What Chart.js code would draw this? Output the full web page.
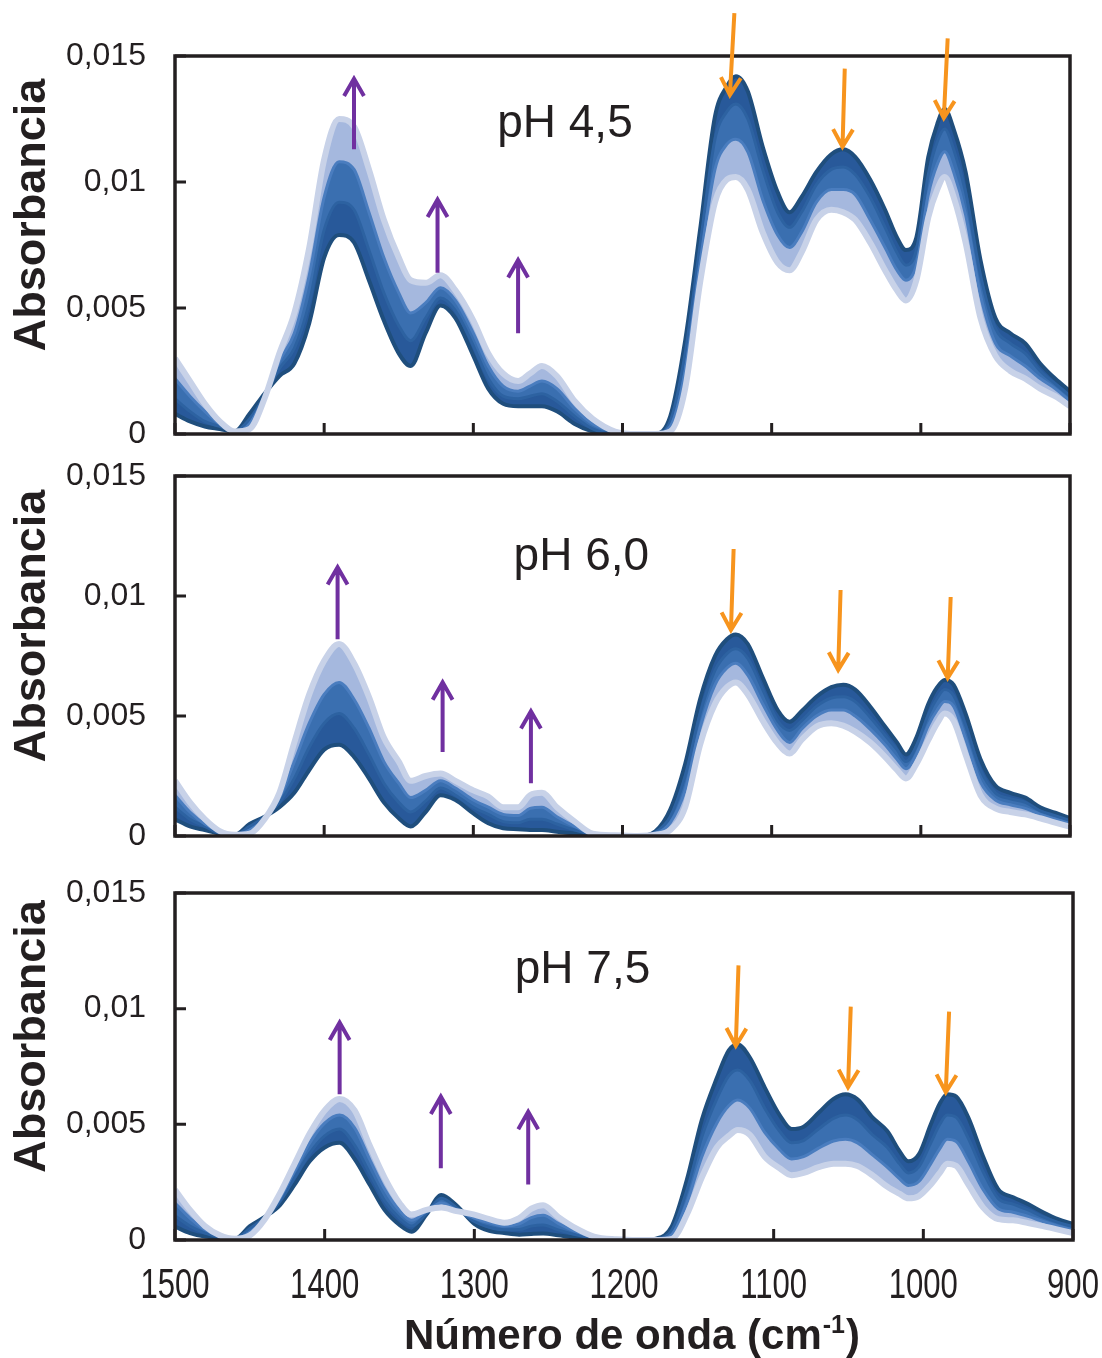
<!DOCTYPE html>
<html>
<head>
<meta charset="utf-8">
<script src="https://cdn.jsdelivr.net/npm/chart.js@4.4.1/dist/chart.umd.min.js"></script>
<style>
  body { margin: 0; background: #fff; }
  #wrap { position: relative; width: 1102px; height: 1358px; }
  canvas { position: absolute; left: 0; }
</style>
</head>
<body>
<div id="wrap">
  <canvas id="p1" width="1102" height="460" style="top:0"></canvas>
  <canvas id="p2" width="1102" height="420" style="top:460px"></canvas>
  <canvas id="p3" width="1102" height="478" style="top:880px"></canvas>
</div>
<script>
// wavenumber (cm-1) of every sampled point
const wavenumber = [1500,1490,1480,1470,1460,1450,1440,1430,1420,1410,
  1400,1390,1380,1370,1360,1350,1342,1332,1322,1312,
  1300,1290,1280,1270,1262,1254,1244,1232,1220,1205,
  1190,1178,1168,1158,1148,1138,1130,1124,1116,1106,
  1096,1088,1080,1070,1060,1052,1044,1034,1024,1016,
  1010,1003,995,989,984,978,970,960,950,940,
  930,920,910,900];

// absorbance x 1e-4, first spectrum (dark) to last spectrum (light)
const ph45_1 = [8,5,3,2,1,8,16,23,28,44,
  70,79,76,61,45,32,27,40,51,46,
  31,18,12,11,11,11,9,4,1,0,
  0,0,7,37,81,126,138,142,136,114,
  96,88,94,104,111,113,110,101,89,78,
  73,78,110,123,129,121,104,69,46,40,
  36,28,22,17];
const ph45_2 = [14,9,5,3,1,6,15,26,34,52,
  81,92,89,73,56,43,37,46,54,49,
  35,22,15,14,15,16,13,7,2,0,
  0,0,5,32,75,117,128,131,125,105,
  88,82,88,99,105,106,103,94,82,72,
  67,73,103,116,121,113,96,63,42,36,
  32,25,20,15];
const ph45_3 = [22,15,9,4,1,4,15,29,40,63,
  94,108,105,88,70,56,48,52,58,53,
  40,27,19,17,19,21,18,10,4,1,
  0,0,3,25,68,105,115,117,112,93,
  79,74,80,92,97,97,95,85,74,65,
  61,67,95,107,112,104,87,55,36,31,
  27,22,18,13];
const ph45_4 = [30,21,12,5,1,2,14,32,48,74,
  109,125,122,105,85,70,61,60,63,57,
  45,32,24,21,24,27,23,13,6,1,
  0,0,1,18,60,92,101,102,97,80,
  68,65,72,85,89,88,85,76,65,57,
  53,61,86,97,102,94,76,46,31,25,
  22,18,15,11];

const ph60_1 = [7,4,2.5,1,0.5,5,8,12,18,27.5,
  36,38,33,24,14,7.4,4,10,17,15,
  9.4,5.3,3.2,2.8,2.5,2.5,1.8,1,0.5,0,
  0,2,11,30,57,75,82,84,80,66,
  52.5,47.6,52,58,62,63,61,54,45.6,39,
  34,41,55,62,65,63,51,32,21,18,
  16,12,9.7,7.4];
const ph60_2 = [12,7,4,1,0.5,4,8,14,24,37,
  47,51,45,34,22,14,10,14.5,20,17,
  12,9,6,5.5,7,7,5,2.5,0.7,0.1,
  0,1.5,8,25,51,69,76,78,74,61,
  48,44,48,54,57.5,58,56,49.5,42,36,
  31,37.5,50.5,57.5,61,58.5,46,27.5,18,15.5,
  14,10.5,8.5,6.4];
const ph60_3 = [17,10,5,2,0.5,2.5,7,16,31,47,
  59,64,57,45,31,22,16,19,23,20,
  15,12,9,8.5,11.5,12,8,4,0.8,0.2,
  0,1,5.5,19,45,63,70,72,67,55,
  44,39,44.5,50,52.5,52.5,50,44.5,38,32,
  28,34,46,52.5,56,54,40.5,22.5,15,13,
  11.5,9,7,5.2];
const ph60_4 = [23,14,7,2,0.5,1,7,18,39,59,
  73,80,72,58,41,31,23,25,26,23,
  19,16.4,12,12,17,18,12,6,1,0.3,
  0,0.5,2.5,12,38,55,62,64,59,48,
  38.6,34.4,40,45.6,47,46,43.5,39,33,27.5,
  24,30,40,47,51,48,34,17,11.5,10,
  9,7.4,5.6,3.9];

const ph75_1 = [5.8,3,1.5,1,0.5,6,10,15,24,34,
  40,42,35,24,13,6.5,3.6,11,19.5,15,
  7,4,3,2.3,2.6,2.8,2,1,0.5,0,
  0,0.7,6,26,52,70,82,84.5,79,66,
  54,48,49,55,61,63,60.8,53,47,38.5,
  34,37,50,59,63,62,53,36,22,18.5,
  15.5,12,9,7];
const ph75_2 = [10.5,6,3,1.3,0.5,5,9.7,16.5,27,37.5,
  45,48,41,29,17,9.5,6,11.5,18,14,
  8,5.5,4.4,4.5,6,6.5,4.4,2.2,0.8,0.1,
  0,0.5,4.3,21.5,44.5,61,71,73.5,69,57,
  47,42,43,48,52.6,54,52,45.5,40,33,
  29,31.6,42,50,54,53,44,29.4,18,15.5,
  13,10,7.6,5.8];
const ph75_3 = [16,9.5,4.5,1.7,0.5,3.4,9.3,18,30,42,
  50.5,54,48.5,35,22,12.7,8.5,12.3,16,13,
  9.5,7.5,6,7,9.7,10.7,7.2,3.6,1.2,0.2,
  0,0.2,2.4,16,36,50.5,58,60.5,57,46.5,
  39,35,36,39.7,42.8,43.5,42,36.8,31.4,26.5,
  23.6,25.3,33,39.5,43.5,42.5,34,21.7,13.5,12,
  10.2,8,6,4.4];
const ph75_4 = [21.7,13,6,2,0.5,2,9,20,33,46,
  56,61,56,41,27,16,11,13,14,12.5,
  11,9,7.5,9.5,13.5,15,10,5,1.5,0.3,
  0,0,0.5,11,27,40,45,47.5,45.5,36,
  31,28,29,31.5,33,33,32,28,23,20,
  18,19,24,29,33,32,24,14,9,8.5,
  7.3,6,4.5,3];

// arrows: [from wavenumber, from abs x1e-4, to wavenumber, to abs x1e-4]
const arrowsPh45 = [[1380,113,1380,141],[1324,64,1324,93],[1270,40,1270,69],
  [1125,167,1128,134.5],[1051,145,1052.5,114],[982,157,984.6,125.4]];
const arrowsPh60 = [[1391,82,1391,112],[1320.6,35,1320.6,64],[1261.4,22,1261.4,52],
  [1125.5,119.6,1127.3,85.8],[1053.8,102.5,1055.4,69.2],[980,99.6,982,65.8]];
const arrowsPh75 = [[1390,63,1390,94],[1322.4,31,1322.4,62],[1264,24,1264,55.4],
  [1123.5,118.7,1125.3,84],[1048.5,100.9,1050.3,66],[982.8,98.7,985,63.9]];

const panelLabels = ['pH 4,5', 'pH 6,0', 'pH 7,5'];
const xTicks = [1500, 1400, 1300, 1200, 1100, 1000, 900];
const yTicks = [0, 0.005, 0.01, 0.015];

const ink = '#231f20';
const lineColors = ['#1f4e7d', '#2d62a1', '#4a7dbf', '#c8d2e8'];
const fillColors = ['#1f4e7d', '#28599a', '#3a6fb0', '#a5b8de'];
const lineWidths = [4, 3, 3, 6];
const sans = '"Liberation Sans", Arial, sans-serif';

function drawArrow(ctx, x0, y0, x1, y1, color) {
  const ang = Math.atan2(y1 - y0, x1 - x0), h = 20, spread = 0.52;
  ctx.strokeStyle = color;
  ctx.lineWidth = 4;
  ctx.lineJoin = 'miter';
  ctx.beginPath();
  ctx.moveTo(x0, y0);
  ctx.lineTo(x1, y1);
  ctx.moveTo(x1 - h * Math.cos(ang - spread), y1 - h * Math.sin(ang - spread));
  ctx.lineTo(x1, y1);
  ctx.lineTo(x1 - h * Math.cos(ang + spread), y1 - h * Math.sin(ang + spread));
  ctx.stroke();
}

const decor = {
  id: 'decor',
  afterDatasetsDraw(chart, args, o) {
    const { ctx, chartArea: a, scales: { x, y } } = chart;
    ctx.save();
    // inner tick marks
    ctx.strokeStyle = ink;
    ctx.lineWidth = 3;
    ctx.beginPath();
    y.ticks.forEach(t => {
      const py = y.getPixelForValue(t.value);
      ctx.moveTo(a.left, py); ctx.lineTo(a.left + 11, py);
    });
    x.ticks.forEach(t => {
      const px = x.getPixelForValue(t.value);
      ctx.moveTo(px, a.bottom); ctx.lineTo(px, a.bottom - 11);
    });
    ctx.stroke();
    // frame
    ctx.lineWidth = 3.5;
    ctx.strokeRect(a.left, a.top, a.right - a.left, a.bottom - a.top);

    o.arrows.forEach(([w0, v0, w1, v1]) => {
      drawArrow(ctx, x.getPixelForValue(w0), y.getPixelForValue(v0 / 1e4),
        x.getPixelForValue(w1), y.getPixelForValue(v1 / 1e4),
        v1 > v0 ? '#7030a0' : '#f7941d');
    });

    ctx.fillStyle = ink;
    ctx.font = '46px ' + sans;
    ctx.textAlign = 'left';
    ctx.textBaseline = 'alphabetic';
    ctx.fillText(o.label, x.getPixelForValue(o.at[0]), y.getPixelForValue(o.at[1] / 1e4));

    if (o.xTitle) {
      // condensed tick labels under the bottom panel
      ctx.font = '42px ' + sans;
      ctx.textAlign = 'center';
      x.ticks.forEach(t => {
        ctx.save();
        ctx.translate(x.getPixelForValue(t.value), a.bottom + 58);
        ctx.scale(0.74, 1);
        ctx.fillText(String(t.value), 0, 0);
        ctx.restore();
      });
      ctx.textAlign = 'left';
      const main = 'Número de onda (cm', sup = '-1', close = ')';
      const big = 'bold 42px ' + sans, small = 'bold 25px ' + sans;
      ctx.font = big; const wm = ctx.measureText(main).width, wc = ctx.measureText(close).width;
      ctx.font = small; const ws = ctx.measureText(sup).width;
      const sx = 631 - (wm + ws + wc) / 2;
      const base = 469;
      ctx.font = big; ctx.fillText(main, sx, base);
      ctx.font = small; ctx.fillText(sup, sx + wm + 1, base - 16);
      ctx.font = big; ctx.fillText(close, sx + wm + ws + 2, base);
    }

    ctx.translate(33, (a.top + a.bottom) / 2 - 30);
    ctx.rotate(-Math.PI / 2);
    ctx.font = 'bold 45px ' + sans;
    ctx.textAlign = 'center';
    ctx.textBaseline = 'middle';
    ctx.fillText('Absorbancia', 0, 0);
    ctx.restore();
  }
};

function panel(id, series, arrows, label, at, pad, bottomAxis) {
  const datasets = series.map((vals, i) => ({
    data: wavenumber.map((w, k) => ({ x: w, y: vals[k] / 1e4 })),
    borderColor: lineColors[i],
    backgroundColor: fillColors[i],
    borderWidth: lineWidths[i],
    fill: i === 0 ? false : '-1',
    pointRadius: 0,
    cubicInterpolationMode: 'monotone',
    order: series.length - i
  }));
  new Chart(document.getElementById(id), {
    type: 'line',
    data: { datasets },
    plugins: [decor],
    options: {
      responsive: false,
      animation: false,
      devicePixelRatio: 1,
      layout: { padding: pad },
      plugins: {
        legend: { display: false },
        tooltip: { enabled: false },
        filler: { drawTime: 'beforeDatasetsDraw' },
        decor: { arrows, label, at, xTitle: bottomAxis }
      },
      scales: {
        x: {
          type: 'linear', reverse: true, min: 900, max: 1500,
          afterBuildTicks: s => { s.ticks = xTicks.map(v => ({ value: v })); },
          afterFit: s => {
            s.height = bottomAxis ? 118 : 0;
            s.paddingLeft = 0; s.paddingRight = 0;
          },
          grid: { display: false, drawTicks: false },
          border: { display: false },
          ticks: { display: false }
        },
        y: {
          min: 0, max: 0.015,
          afterBuildTicks: s => { s.ticks = yTicks.map(v => ({ value: v })); },
          afterFit: s => {
            s.width = 175;
            s.paddingTop = 0; s.paddingBottom = 0;
          },
          grid: { display: false, drawTicks: false },
          border: { display: false },
          ticks: {
            padding: 29, color: ink, font: { family: sans, size: 32 },
            callback: v => String(+v.toFixed(3)).replace('.', ',')
          }
        }
      }
    }
  });
}

panel('p1', [ph45_1, ph45_2, ph45_3, ph45_4], arrowsPh45, panelLabels[0], [1284, 118],
  { top: 56, bottom: 26, left: 0, right: 32 }, false);
panel('p2', [ph60_1, ph60_2, ph60_3, ph60_4], arrowsPh60, panelLabels[1], [1273, 111],
  { top: 16, bottom: 44, left: 0, right: 32 }, false);
panel('p3', [ph75_1, ph75_2, ph75_3, ph75_4], arrowsPh75, panelLabels[2], [1273, 111],
  { top: 13, bottom: 0, left: 0, right: 29 }, true);
</script>
</body>
</html>
